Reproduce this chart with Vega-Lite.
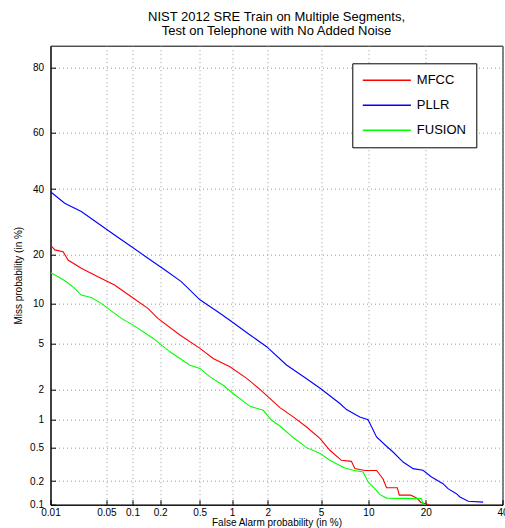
{
  "$schema": "https://vega.github.io/schema/vega-lite/v6.json",
  "width": 452,
  "height": 459,
  "autosize": {"type": "none"},
  "padding": {"left": 50.5, "top": 45.7, "right": 2.5, "bottom": 23.3},
  "background": "white",
  "title": {
    "text": ["NIST 2012 SRE Train on Multiple Segments,", " Test on Telephone with No Added Noise"],
    "font": "Liberation Sans",
    "fontSize": 13,
    "fontWeight": "normal",
    "color": "black",
    "anchor": "middle",
    "offset": 8,
    "lineHeight": 14
  },
  "config": {
    "view": {"stroke": "black", "strokeWidth": 1},
    "axis": {
      "labelFont": "Liberation Sans",
      "labelFontSize": 10,
      "labelColor": "black",
      "titleFont": "Liberation Sans",
      "titleFontSize": 10,
      "titleFontWeight": "normal",
      "titleColor": "black",
      "domainColor": "black",
      "domainWidth": 1,
      "ticks": true,
      "tickSize": -5,
      "tickColor": "black",
      "tickWidth": 1,
      "gridColor": "#999999",
      "gridDash": [1, 3],
      "gridWidth": 1,
      "gridOpacity": 1,
      "labelFlush": false,
      "labelOverlap": false
    }
  },
  "data": {
    "values": [
      {"s": "MFCC", "fa": 0.01, "miss": 22.5},
      {"s": "MFCC", "fa": 0.0114, "miss": 21.2},
      {"s": "MFCC", "fa": 0.0146, "miss": 20.7},
      {"s": "MFCC", "fa": 0.0169, "miss": 18.67},
      {"s": "MFCC", "fa": 0.0248, "miss": 16.73},
      {"s": "MFCC", "fa": 0.0396, "miss": 14.9},
      {"s": "MFCC", "fa": 0.0624, "miss": 13.24},
      {"s": "MFCC", "fa": 0.0968, "miss": 11.11},
      {"s": "MFCC", "fa": 0.148, "miss": 9.26},
      {"s": "MFCC", "fa": 0.189, "miss": 7.85},
      {"s": "MFCC", "fa": 0.32, "miss": 5.89},
      {"s": "MFCC", "fa": 0.504, "miss": 4.6},
      {"s": "MFCC", "fa": 0.672, "miss": 3.79},
      {"s": "MFCC", "fa": 0.955, "miss": 3.21},
      {"s": "MFCC", "fa": 1.34, "miss": 2.53},
      {"s": "MFCC", "fa": 1.73, "miss": 2.0},
      {"s": "MFCC", "fa": 2.5, "miss": 1.33},
      {"s": "MFCC", "fa": 3.16, "miss": 1.07},
      {"s": "MFCC", "fa": 3.96, "miss": 0.839},
      {"s": "MFCC", "fa": 4.93, "miss": 0.628},
      {"s": "MFCC", "fa": 5.74, "miss": 0.465},
      {"s": "MFCC", "fa": 6.83, "miss": 0.356},
      {"s": "MFCC", "fa": 7.9, "miss": 0.346},
      {"s": "MFCC", "fa": 8.29, "miss": 0.284},
      {"s": "MFCC", "fa": 9.53, "miss": 0.27},
      {"s": "MFCC", "fa": 11.14, "miss": 0.27},
      {"s": "MFCC", "fa": 12.1, "miss": 0.214},
      {"s": "MFCC", "fa": 12.66, "miss": 0.165},
      {"s": "MFCC", "fa": 14.46, "miss": 0.165},
      {"s": "MFCC", "fa": 14.81, "miss": 0.133},
      {"s": "MFCC", "fa": 16.95, "miss": 0.133},
      {"s": "MFCC", "fa": 18.23, "miss": 0.121},
      {"s": "MFCC", "fa": 18.95, "miss": 0.107},
      {"s": "MFCC", "fa": 20.2, "miss": 0.102},
      {"s": "MFCC", "fa": 20.8, "miss": 0.1},
      {"s": "PLLR", "fa": 0.01, "miss": 39.1},
      {"s": "PLLR", "fa": 0.0153, "miss": 35.2},
      {"s": "PLLR", "fa": 0.0248, "miss": 32.5},
      {"s": "PLLR", "fa": 0.0396, "miss": 28.8},
      {"s": "PLLR", "fa": 0.0624, "miss": 25.3},
      {"s": "PLLR", "fa": 0.0968, "miss": 22.1},
      {"s": "PLLR", "fa": 0.148, "miss": 19.1},
      {"s": "PLLR", "fa": 0.223, "miss": 16.4},
      {"s": "PLLR", "fa": 0.33, "miss": 13.9},
      {"s": "PLLR", "fa": 0.504, "miss": 10.6},
      {"s": "PLLR", "fa": 0.776, "miss": 8.56},
      {"s": "PLLR", "fa": 0.988, "miss": 7.44},
      {"s": "PLLR", "fa": 1.43, "miss": 5.89},
      {"s": "PLLR", "fa": 1.96, "miss": 4.75},
      {"s": "PLLR", "fa": 2.81, "miss": 3.33},
      {"s": "PLLR", "fa": 3.75, "miss": 2.63},
      {"s": "PLLR", "fa": 4.93, "miss": 2.05},
      {"s": "PLLR", "fa": 6.68, "miss": 1.46},
      {"s": "PLLR", "fa": 7.36, "miss": 1.27},
      {"s": "PLLR", "fa": 8.89, "miss": 1.07},
      {"s": "PLLR", "fa": 9.96, "miss": 1.0},
      {"s": "PLLR", "fa": 11.14, "miss": 0.654},
      {"s": "PLLR", "fa": 12.66, "miss": 0.516},
      {"s": "PLLR", "fa": 13.73, "miss": 0.444},
      {"s": "PLLR", "fa": 15.5, "miss": 0.34},
      {"s": "PLLR", "fa": 17.4, "miss": 0.284},
      {"s": "PLLR", "fa": 19.4, "miss": 0.271},
      {"s": "PLLR", "fa": 21.25, "miss": 0.225},
      {"s": "PLLR", "fa": 23.9, "miss": 0.186},
      {"s": "PLLR", "fa": 25.1, "miss": 0.161},
      {"s": "PLLR", "fa": 27.2, "miss": 0.139},
      {"s": "PLLR", "fa": 28.1, "miss": 0.126},
      {"s": "PLLR", "fa": 30.3, "miss": 0.111},
      {"s": "PLLR", "fa": 34.4, "miss": 0.108},
      {"s": "FUSION", "fa": 0.01, "miss": 15.76},
      {"s": "FUSION", "fa": 0.0126, "miss": 14.9},
      {"s": "FUSION", "fa": 0.0161, "miss": 13.88},
      {"s": "FUSION", "fa": 0.0205, "miss": 12.61},
      {"s": "FUSION", "fa": 0.0248, "miss": 11.4},
      {"s": "FUSION", "fa": 0.0329, "miss": 11.0},
      {"s": "FUSION", "fa": 0.0434, "miss": 10.03},
      {"s": "FUSION", "fa": 0.052, "miss": 9.26},
      {"s": "FUSION", "fa": 0.0624, "miss": 8.53},
      {"s": "FUSION", "fa": 0.078, "miss": 7.72},
      {"s": "FUSION", "fa": 0.102, "miss": 7.0},
      {"s": "FUSION", "fa": 0.169, "miss": 5.53},
      {"s": "FUSION", "fa": 0.253, "miss": 4.31},
      {"s": "FUSION", "fa": 0.32, "miss": 3.79},
      {"s": "FUSION", "fa": 0.402, "miss": 3.32},
      {"s": "FUSION", "fa": 0.504, "miss": 3.11},
      {"s": "FUSION", "fa": 0.627, "miss": 2.61},
      {"s": "FUSION", "fa": 0.832, "miss": 2.19},
      {"s": "FUSION", "fa": 1.02, "miss": 1.83},
      {"s": "FUSION", "fa": 1.43, "miss": 1.37},
      {"s": "FUSION", "fa": 1.84, "miss": 1.25},
      {"s": "FUSION", "fa": 2.15, "miss": 0.988},
      {"s": "FUSION", "fa": 2.5, "miss": 0.86},
      {"s": "FUSION", "fa": 3.16, "miss": 0.645},
      {"s": "FUSION", "fa": 3.96, "miss": 0.498},
      {"s": "FUSION", "fa": 4.93, "miss": 0.426},
      {"s": "FUSION", "fa": 5.74, "miss": 0.356},
      {"s": "FUSION", "fa": 6.35, "miss": 0.325},
      {"s": "FUSION", "fa": 7.19, "miss": 0.289},
      {"s": "FUSION", "fa": 8.1, "miss": 0.271},
      {"s": "FUSION", "fa": 9.31, "miss": 0.258},
      {"s": "FUSION", "fa": 9.96, "miss": 0.195},
      {"s": "FUSION", "fa": 10.9, "miss": 0.161},
      {"s": "FUSION", "fa": 11.6, "miss": 0.136},
      {"s": "FUSION", "fa": 12.66, "miss": 0.122},
      {"s": "FUSION", "fa": 19.1, "miss": 0.12},
      {"s": "FUSION", "fa": 19.4, "miss": 0.103},
      {"s": "FUSION", "fa": 20.0, "miss": 0.1}
    ]
  },
  "transform": [
    {"calculate": "quantileNormal(datum.fa / 100)", "as": "zx"},
    {"calculate": "quantileNormal(datum.miss / 100)", "as": "zy"}
  ],
  "mark": {"type": "line", "strokeWidth": 1.1, "clip": true},
  "encoding": {
    "x": {
      "field": "zx",
      "type": "quantitative",
      "scale": {"domain": [-3.719, -0.2533], "nice": false, "zero": false},
      "axis": {
        "title": "False Alarm probability (in %)",
        "values": [-3.719, -3.2905, -3.0902, -2.8782, -2.5758, -2.3263, -2.0537, -1.6449, -1.2816, -0.8416, -0.2533],
        "labelExpr": "format(cumulativeNormal(datum.value) * 100, '.2~r')",
        "labelPadding": 8,
        "titlePadding": 0
      }
    },
    "y": {
      "field": "zy",
      "type": "quantitative",
      "scale": {"domain": [-3.0902, 1.0364], "nice": false, "zero": false},
      "axis": {
        "title": "Miss probability (in %)",
        "values": [-3.0902, -2.8782, -2.5758, -2.3263, -2.0537, -1.6449, -1.2816, -0.8416, -0.2533, 0.2533, 0.8416],
        "labelExpr": "format(cumulativeNormal(datum.value) * 100, '.2~r')",
        "labelPadding": 12,
        "titlePadding": 6
      }
    },
    "color": {
      "field": "s",
      "type": "nominal",
      "scale": {"domain": ["MFCC", "PLLR", "FUSION"], "range": ["#ff0000", "#0000ff", "#00ff00"]},
      "legend": {
        "orient": "none",
        "legendX": 301.8,
        "legendY": 17.6,
        "title": null,
        "strokeColor": "black",
        "fillColor": "white",
        "padding": 9.5,
        "symbolType": "M-1,0H6.4",
        "symbolSize": 169,
        "symbolStrokeWidth": 1.5,
        "labelFont": "Liberation Sans",
        "labelFontSize": 13,
        "labelColor": "black",
        "labelOffset": 40,
        "rowPadding": 10,
        "labelExpr": "datum.label + '\u00a0\u00a0\u00a0'"
      }
    },
    "order": {"value": null}
  }
}
